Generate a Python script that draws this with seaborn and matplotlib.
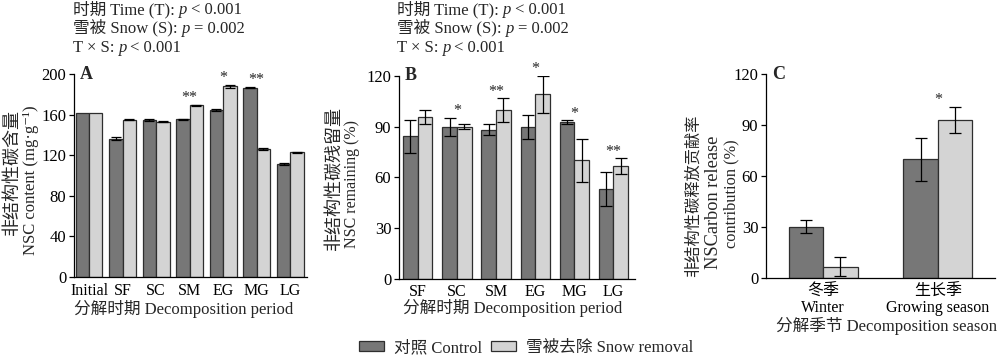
import numpy as np
import pandas as pd
import matplotlib
matplotlib.use('Agg')
import matplotlib.pyplot as plt
import seaborn as sns
from matplotlib.patches import Patch

# ---------------- data ----------------
periods_a = ['Initial', 'SF', 'SC', 'SM', 'EG', 'MG', 'LG']
content_control = [162, 136.5, 154.5, 155.7, 164.5, 186.8, 111.5]
content_control_err = [0, 1.5, 1.0, 0.5, 1.0, 0.5, 1.0]
content_snow = [162, 155, 153.2, 169.5, 188, 126.5, 123.2]
content_snow_err = [0, 0.5, 0.3, 0.5, 1.5, 1.0, 0.5]
content_sig = ['', '', '', '**', '*', '**', '']

periods_b = ['SF', 'SC', 'SM', 'EG', 'MG', 'LG']
remain_control = [84.2, 89.9, 88.1, 89.9, 92.7, 53.0]
remain_control_err = [9.8, 5.4, 3.2, 7.2, 1.0, 10.0]
remain_snow = [95.6, 89.9, 99.7, 109.2, 70.0, 66.7]
remain_snow_err = [4.0, 1.5, 7.0, 11.0, 12.5, 4.5]
remain_sig = ['', '*', '**', '*', '*', '**']

seasons = ['冬季\nWinter', '生长季\nGrowing season']
contrib_control = [30.2, 70.0]
contrib_control_err = [3.8, 12.6]
contrib_snow = [6.7, 93.1]
contrib_snow_err = [5.7, 7.7]
contrib_sig = ['', '*']

treatments = ['对照 Control', '雪被去除 Snow removal']
stats_lines = [('时期 Time (T):', '< 0.001'),
               ('雪被 Snow (S):', '= 0.002'),
               ('T × S:', '< 0.001')]

# ---------------- style ----------------
sns.set_style('ticks')
FAM = ['Liberation Serif', 'DejaVu Serif', 'Noto Sans CJK SC']
plt.rcParams['font.family'] = FAM
plt.rcParams['axes.unicode_minus'] = False
plt.rcParams['axes.linewidth'] = 0.9
plt.rcParams['xtick.color'] = 'black'
plt.rcParams['ytick.color'] = 'black'
plt.rcParams['axes.edgecolor'] = 'black'

DARK = '#777777'
LIGHT = '#d4d4d4'
EDGE = '#2e2e2e'
FS = 12

fig = plt.figure(figsize=(10, 3.58), dpi=100)
W, H = 1000.0, 358.0


def ftext(xp, yp, s, **kw):
    return fig.text(xp / W, 1 - yp / H, s, **kw)


def make_df(cats, c, ce, s, se):
    return pd.DataFrame({
        'cat': list(cats) * 2,
        'val': list(c) + list(s),
        'err': list(ce) + list(se),
        'trt': [treatments[0]] * len(cats) + [treatments[1]] * len(cats),
    })


def panel(rect, cats, c, ce, s, se, sig, width, xlim, ylim, yticks,
          letter, capsize):
    ax = fig.add_axes(rect)
    df = make_df(cats, c, ce, s, se)
    sns.barplot(data=df, x='cat', y='val', hue='trt', order=list(cats),
                hue_order=treatments, palette=[DARK, LIGHT], width=width,
                gap=0, errorbar=None, edgecolor=EDGE, linewidth=0.9,
                legend=False, ax=ax)
    tops = np.zeros(len(cats))
    for cont, vals, errs in zip(ax.containers, [c, s], [ce, se]):
        for p, v, e in zip(cont.patches, vals, errs):
            xc = p.get_x() + p.get_width() / 2
            if e > 0:
                ax.errorbar(xc, v, yerr=e, color='black', elinewidth=0.9,
                            capsize=capsize, capthick=0.9, zorder=5)
        tops = np.maximum(tops, np.array(vals) + np.array(errs))
    for i, lab in enumerate(sig):
        if lab:
            ax.annotate(lab, (i, tops[i]), xytext=(0, 2.0),
                        textcoords='offset points', ha='center',
                        va='baseline', fontsize=FS - 0.5)
    ax.set_xlim(*xlim)
    ax.set_ylim(*ylim)
    ax.set_yticks(yticks)
    ax.set_xlabel('')
    ax.set_ylabel('')
    sns.despine(ax=ax)
    ax.tick_params(axis='y', direction='out', length=3.5, width=0.9,
                   labelsize=FS, pad=2)
    ax.tick_params(axis='x', length=0, labelsize=FS - 0.5, pad=4)
    ax.text(0.025, 1.0, letter, transform=ax.transAxes, va='center',
            ha='left', fontsize=FS + 1, fontweight='bold')
    return ax


axA = panel([0.074, 0.226, 0.233, 0.567], periods_a, content_control,
            content_control_err, content_snow, content_snow_err, content_sig,
            0.8, (-0.45, 6.5), (0, 200), [0, 40, 80, 120, 160, 200], 'A', 3.3)
axA.set_xlabel('分解时期 Decomposition period', fontsize=FS)
axA.xaxis.set_label_coords(0.472, -0.115)
axA.xaxis.label.set_va('top')

axB = panel([0.399, 0.221, 0.236, 0.567], periods_b, remain_control,
            remain_control_err, remain_snow, remain_snow_err, remain_sig,
            0.75, (-0.48, 5.55), (0, 120), [0, 30, 60, 90, 120], 'B', 4.0)
axB.set_xlabel('分解时期 Decomposition period', fontsize=FS)
axB.xaxis.set_label_coords(0.481, -0.10)
axB.xaxis.label.set_va('top')

axC = panel([0.766, 0.223, 0.229, 0.570], seasons, contrib_control,
            contrib_control_err, contrib_snow, contrib_snow_err, contrib_sig,
            0.6, (-0.5, 1.5), (0, 120), [0, 30, 60, 90, 120], 'C', 4.3)
axC.set_xlabel('分解季节 Decomposition season', fontsize=FS)
axC.xaxis.set_label_coords(0.528, -0.19)
axC.xaxis.label.set_va('top')
for t in axC.get_xticklabels():
    t.set_linespacing(1.0)

# ---------------- y-axis labels (rotated, line by line) ----------------
ylabel_lines = [
    (13, 172, '非结构性碳含量', 13),
    (31, 180, 'NSC content (mg·g⁻¹)', 12),
    (335.5, 177.5, '非结构性碳残留量', 13),
    (352, 184.5, 'NSC remaining (%)', 11.5),
    (694, 196, '非结构性碳释放贡献率', 11.7),
    (714, 202, 'NSCarbon release', 13.2),
    (731, 193.5, 'contribution (%)', 11.8),
]
for xp, yp, s, fs in ylabel_lines:
    ftext(xp, yp, s, rotation=90, ha='center', va='center', fontsize=fs)

# ---------------- stats text (rich pieces) ----------------
fig.canvas.draw()
renderer = fig.canvas.get_renderer()


def rich_line(x_px, y_px, pieces):
    x = x_px
    for txt, style, gap in pieces:
        kw = dict(fontsize=FS, va='baseline', ha='left')
        if style == 'it':
            t = ftext(x, y_px, txt, family='Liberation Serif',
                      style='italic', **kw)
        else:
            t = ftext(x, y_px, txt, family=FAM, **kw)
        bb = t.get_window_extent(renderer)
        x = bb.x1 + gap


for x0 in (73, 397):
    for k, (lead, rest) in enumerate(stats_lines):
        y = 14 + k * 18.8
        rich_line(x0, y, [(lead, 'n', 4), ('p', 'it', 3.5), (rest, 'n', 0)])

# ---------------- legend ----------------
handles = [Patch(facecolor=DARK, edgecolor=EDGE, linewidth=0.9),
           Patch(facecolor=LIGHT, edgecolor=EDGE, linewidth=0.9)]
fig.legend(handles, treatments, loc='center', bbox_to_anchor=(0.526, 0.028),
           ncol=2, frameon=False, fontsize=FS, handlelength=1.5,
           handleheight=0.55, columnspacing=0.55, handletextpad=0.6,
           borderaxespad=0, borderpad=0)

fig.savefig('out.png', dpi=100)
